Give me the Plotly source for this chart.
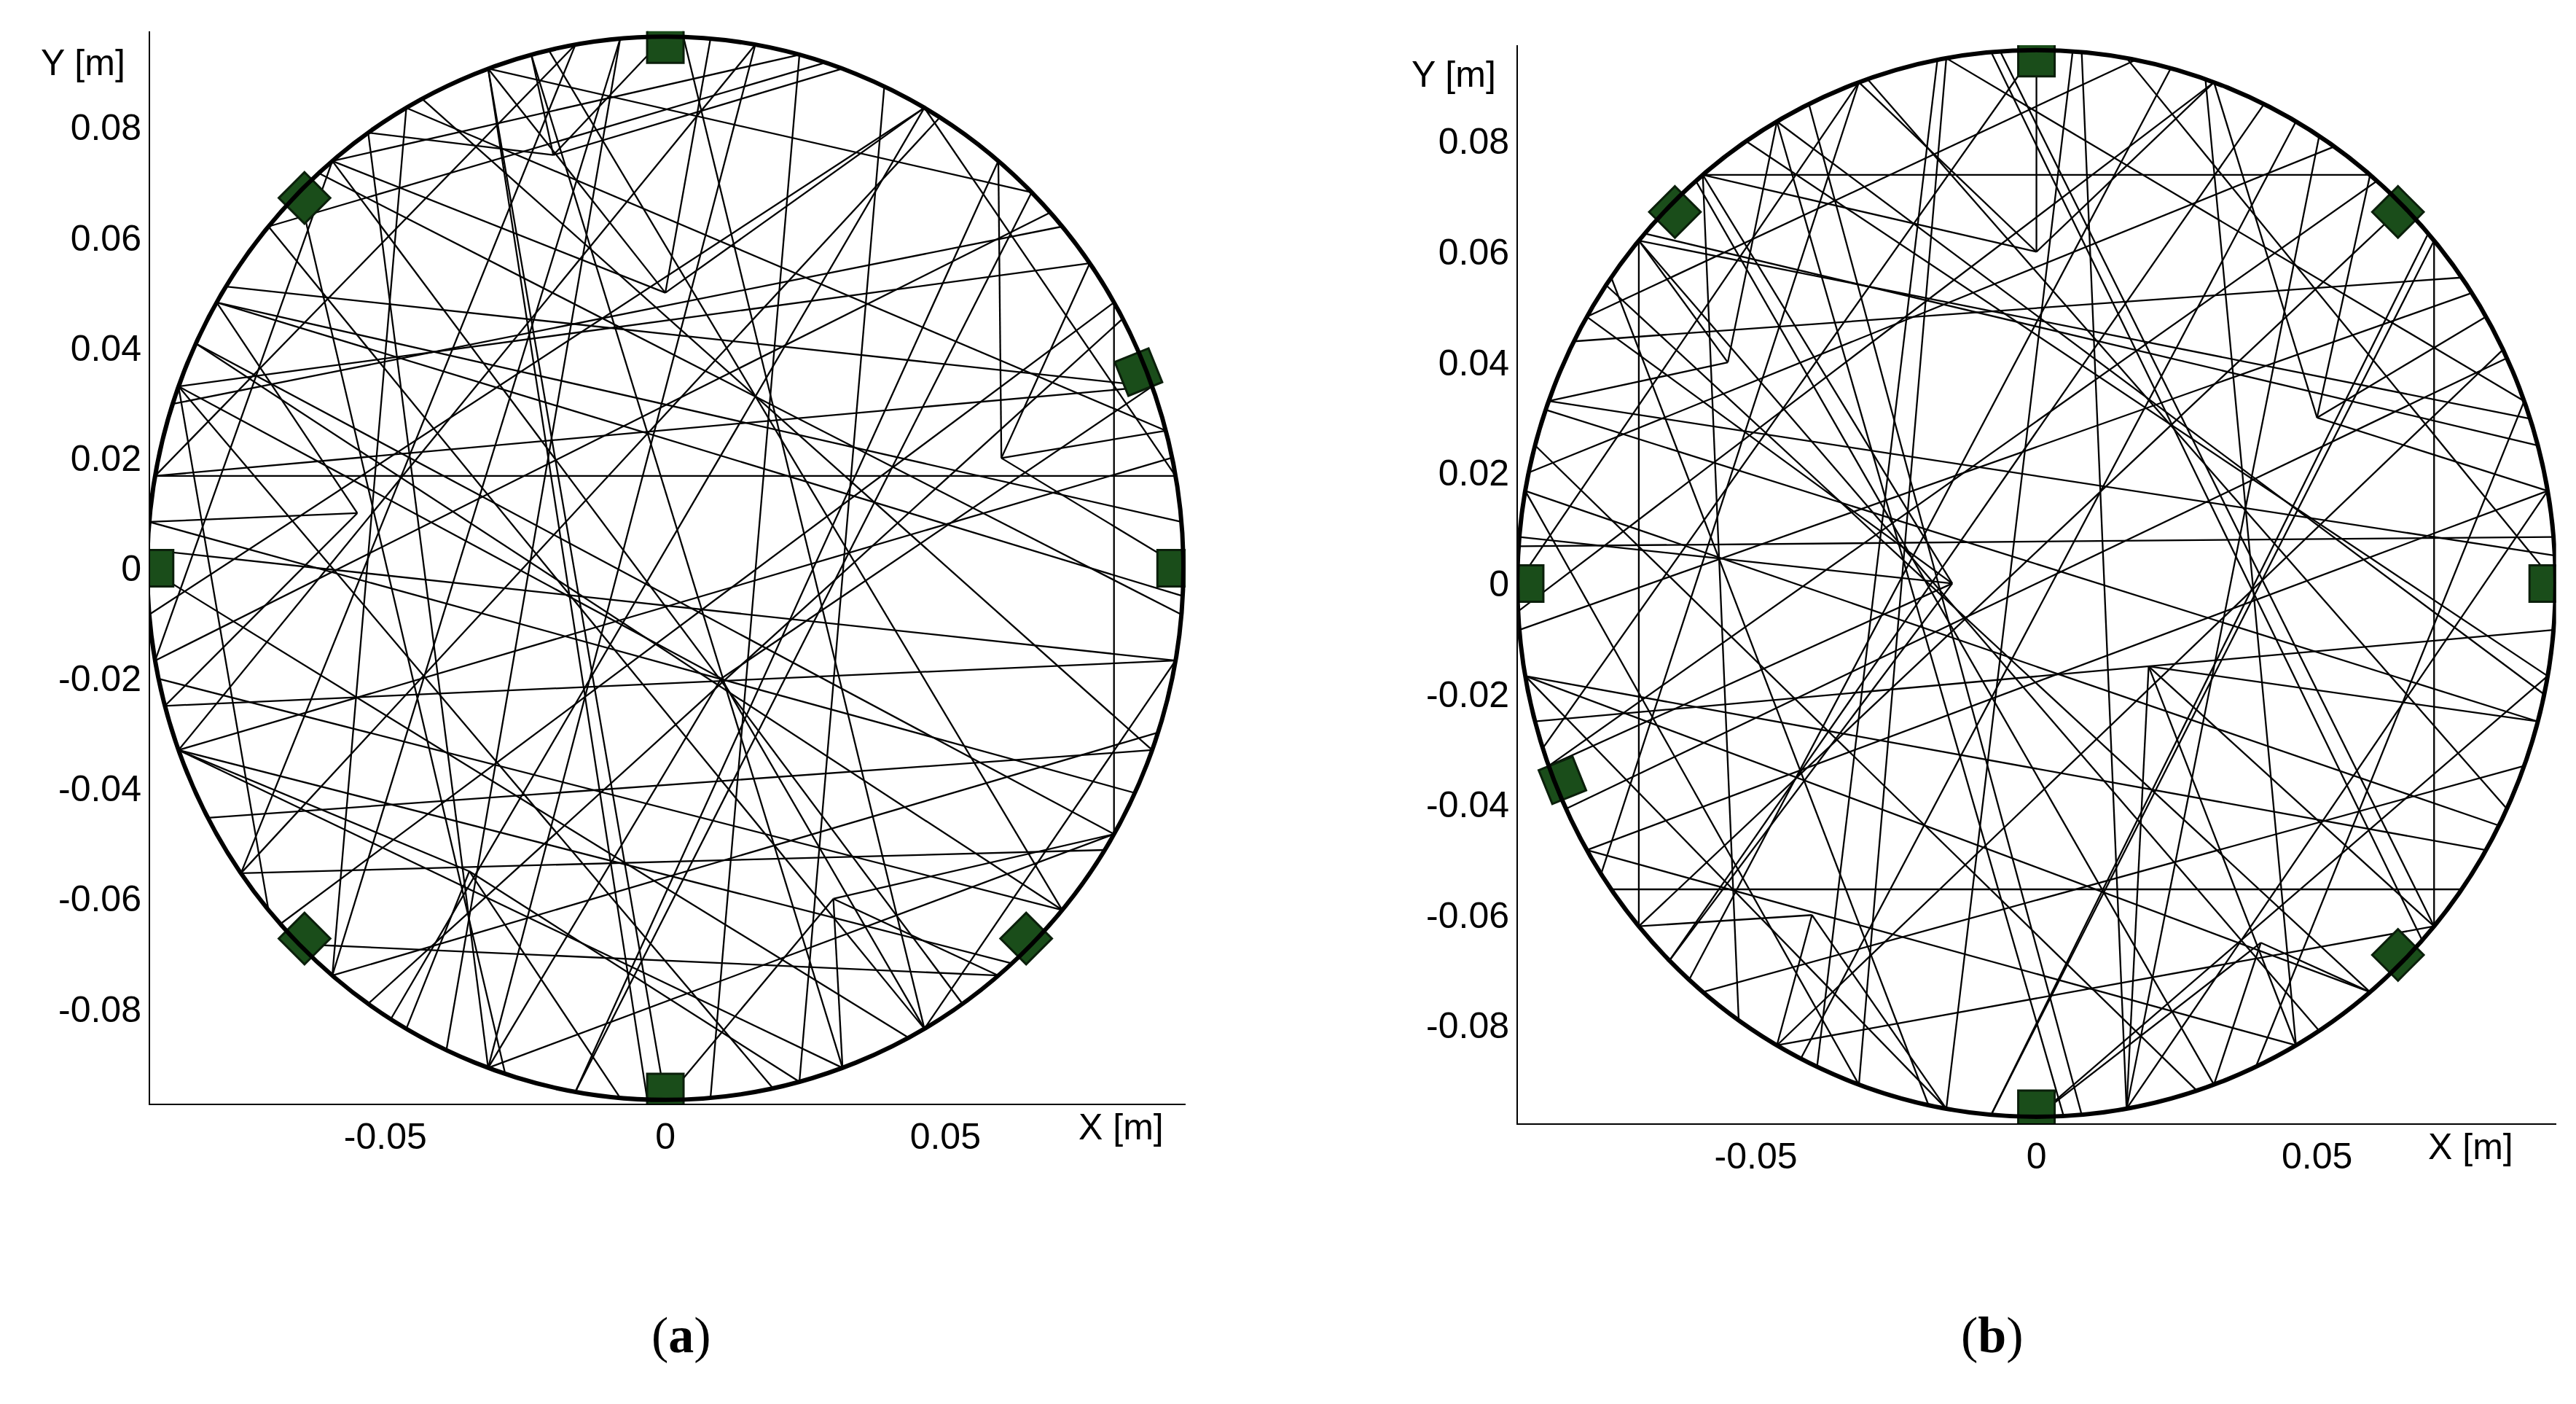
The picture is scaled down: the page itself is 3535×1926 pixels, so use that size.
import numpy as np
import plotly.graph_objects as go

# boundary ellipse radii (the plot is not drawn with equal axes)
RX = 0.0925
RY = 0.0965

# ---- panel (a) mesh: chords between boundary angles (deg) ----
CHORDS_A = [(5, 150), (12, 200), (20, 170), (28, 235), (35, 160), (42, 190), (50, 260), (58, 215),
            (65, 285), (72, 140), (80, 250), (88, 300), (95, 230), (103, 320), (110, 270), (118, 340),
            (125, 250), (132, 355), (140, 300), (148, 20), (155, 330), (162, 40), (170, 10), (178, 350),
            (185, 60), (192, 320), (200, 80), (208, 340), (215, 100), (222, 30), (230, 120), (238, 60),
            (245, 95), (252, 135), (260, 45), (268, 110), (275, 75), (282, 160), (290, 105), (298, 180),
            (305, 130), (312, 200), (320, 155), (328, 215), (335, 175), (342, 230), (350, 195), (357, 150),
            (15, 120), (45, 110), (75, 130), (100, 170), (200, 290), (225, 310), (250, 330), (300, 350),
            (330, 30), (10, 60), (130, 190), (160, 220)]
# interior fan nodes: (x, y, boundary angles connected)
STARS_A = [(0.0, 0.05, [60, 85, 110, 130]), (-0.035, -0.055, [200, 240, 265, 285]),
           (0.03, -0.06, [270, 290, 310, 330]), (-0.055, 0.01, [150, 175, 195]),
           (0.06, 0.02, [0, 15, 35, 50]), (0.01, -0.02, [250, 300, 20, 160]),
           (-0.02, 0.075, [90, 105, 125, 70])]

# ---- panel (b) mesh ----
CHORDS_B = [(3, 160), (10, 210), (18, 140), (26, 240), (33, 185), (41, 265), (49, 200), (57, 280),
            (64, 225), (71, 300), (79, 150), (86, 260), (94, 320), (101, 245), (109, 335), (116, 275),
            (124, 350), (131, 290), (139, 15), (146, 310), (153, 35), (161, 345), (168, 55), (176, 5),
            (183, 70), (190, 330), (198, 90), (205, 25), (213, 110), (220, 45), (228, 75), (235, 130),
            (243, 60), (250, 100), (258, 145), (265, 40), (273, 120), (280, 85), (288, 165), (295, 20),
            (303, 140), (310, 190), (318, 95), (325, 215), (333, 170), (340, 230), (348, 120), (355, 195),
            (20, 100), (50, 130), (140, 220), (170, 250), (210, 300), (240, 320), (270, 350), (320, 40),
            (0, 80), (110, 180), (190, 260), (280, 10)]
STARS_B = [(-0.015, 0.0, [150, 175, 200, 225, 130]), (0.02, -0.015, [280, 300, 320, 345]),
           (0.0, 0.06, [70, 90, 110, 130]), (-0.04, -0.06, [220, 240, 260]),
           (0.05, 0.03, [10, 30, 50, 70]), (-0.055, 0.04, [120, 140, 160]),
           (0.04, -0.065, [270, 290, 310])]

# electrodes (angle on boundary, deg)
ELEC_A = [90, 135, 22, 180, 0, 225, 315, 270]
ELEC_B = [90, 135, 45, 180, 0, 202, 315, 270]

XTICKS = [-0.05, 0, 0.05]
XTICK_TEXT = ['-0.05', '0', '0.05']
YTICKS = [-0.08, -0.06, -0.04, -0.02, 0, 0.02, 0.04, 0.06, 0.08]
YTICK_TEXT = ['-0.08', '-0.06', '-0.04', '-0.02', '0', '0.02', '0.04', '0.06', '0.08']


def bpt(a):
    r = np.deg2rad(a)
    return RX * np.cos(r), RY * np.sin(r)


def mesh_xy(chords, stars):
    xs, ys = [], []
    for a, b in chords:
        x0, y0 = bpt(a)
        x1, y1 = bpt(b)
        xs += [x0, x1, None]
        ys += [y0, y1, None]
    for cx, cy, angs in stars:
        for a in angs:
            x1, y1 = bpt(a)
            xs += [cx, x1, None]
            ys += [cy, y1, None]
    return xs, ys


fig = go.Figure()
panels = [(CHORDS_A, STARS_A, ELEC_A, 'x', 'y'), (CHORDS_B, STARS_B, ELEC_B, 'x2', 'y2')]
for chords, stars, elec, xa, ya in panels:
    xs, ys = mesh_xy(chords, stars)
    fig.add_trace(go.Scatter(x=xs, y=ys, mode='lines', line=dict(color='black', width=2.3),
                             xaxis=xa, yaxis=ya, showlegend=False, hoverinfo='skip'))
    ex = [bpt(a)[0] * 0.985 for a in elec]
    ey = [bpt(a)[1] * 0.985 for a in elec]
    fig.add_trace(go.Scatter(x=ex, y=ey, mode='markers', xaxis=xa, yaxis=ya, showlegend=False,
                             marker=dict(symbol='square', size=50, color='#1a4d1a',
                                         angle=[-a for a in elec],
                                         line=dict(color='#0b1f0b', width=3))))
    fig.add_shape(type='circle', xref=xa, yref=ya, x0=-RX, x1=RX, y0=-RY, y1=RY,
                  line=dict(color='black', width=6))

axis_font = dict(family='Arial, Liberation Sans', size=50, color='black')
common_x = dict(tickvals=XTICKS, ticktext=XTICK_TEXT, showgrid=False, zeroline=False,
                showline=True, linecolor='black', linewidth=2, ticks='', tickfont=axis_font)
common_y = dict(tickvals=YTICKS, ticktext=YTICK_TEXT, showgrid=False, zeroline=False,
                showline=True, linecolor='black', linewidth=2, ticks='', tickfont=axis_font)

fig.update_layout(
    width=3535, height=1926, paper_bgcolor='white', plot_bgcolor='white',
    margin=dict(l=0, r=0, t=0, b=0),
    xaxis=dict(domain=[0.056, 0.458], range=[-0.092, 0.0929], anchor='y', **common_x),
    yaxis=dict(domain=[0.218, 0.982], range=[-0.0972, 0.0975], anchor='x', **common_y),
    xaxis2=dict(domain=[0.587, 0.990], range=[-0.0924, 0.0926], anchor='y2', **common_x),
    yaxis2=dict(domain=[0.204, 0.972], range=[-0.0977, 0.0974], anchor='x2', **common_y),
)

labels = [
    ('X [m]', 0.433, 0.186), ('Y [m]', 0.030, 0.975),
    ('X [m]', 0.957, 0.172), ('Y [m]', 0.562, 0.967),
]
for t, x, y in labels:
    fig.add_annotation(text=t, x=x, y=y, xref='paper', yref='paper', showarrow=False,
                       xanchor='center', font=axis_font)
fig.add_annotation(text='(<b>a</b>)', x=0.250, y=0.032, xref='paper', yref='paper', showarrow=False,
                   font=dict(family='Liberation Serif', size=70, color='black'))
fig.add_annotation(text='(<b>b</b>)', x=0.784, y=0.032, xref='paper', yref='paper', showarrow=False,
                   font=dict(family='Liberation Serif', size=70, color='black'))

fig.write_html('out.html')
